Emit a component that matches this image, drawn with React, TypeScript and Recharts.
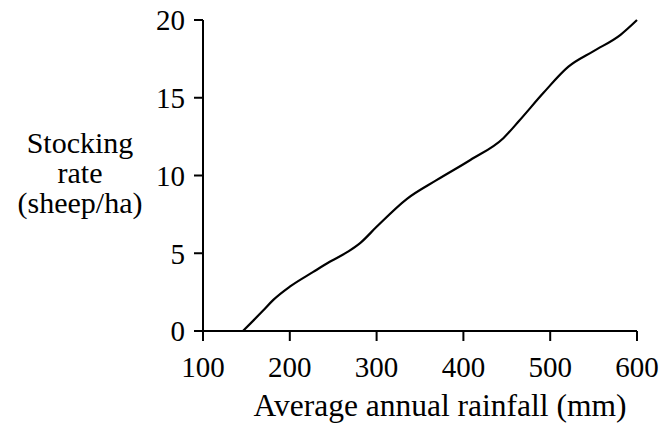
import { LineChart, Line, XAxis, YAxis, Label } from "recharts";

// rainfall (mm) vs stocking rate (sheep/ha)
const rainfall = [146, 169, 181, 200, 227, 246, 267, 281, 300, 335, 369, 408, 446, 464, 492, 521, 550, 581, 600];
const stocking = [0, 1.3, 2.0, 2.85, 3.8, 4.45, 5.1, 5.65, 6.7, 8.5, 9.7, 11.0, 12.4, 13.5, 15.3, 17.0, 18.0, 19.05, 20.0];

const xTicks = [100, 200, 300, 400, 500, 600];
const yTicks = [0, 5, 10, 15, 20];

const yLabelLines = ["Stocking", "rate", "(sheep/ha)"];
const xLabelText = "Average annual rainfall (mm)";

const data = rainfall.map((r, i) => ({ rain: r, rate: stocking[i] }));

const FONT = "Liberation Serif";

export default function App() {
  return (
    <div
      style={{
        position: "absolute",
        left: 0,
        top: 0,
        width: 664,
        height: 431,
        background: "#fff",
        fontFamily: FONT,
      }}
    >
      <LineChart
        width={664}
        height={431}
        data={data}
        margin={{ top: 20, right: 27, bottom: 40, left: 143 }}
        style={{ fontFamily: FONT }}
      >
        <XAxis
          dataKey="rain"
          type="number"
          domain={[100, 600]}
          ticks={xTicks}
          tickSize={10}
          tickMargin={15}
          height={60}
          axisLine={{ stroke: "#000", strokeWidth: 2 }}
          tickLine={{ stroke: "#000", strokeWidth: 2 }}
          tick={{ fill: "#000", fontSize: 29, style: { fontFamily: FONT } }}
        >
          <Label
            content={() => (
              <text x={440} y={416} textAnchor="middle" fill="#000" fontSize={31.5} style={{ fontFamily: FONT }}>
                {xLabelText}
              </text>
            )}
          />
        </XAxis>
        <YAxis
          type="number"
          domain={[0, 20]}
          ticks={yTicks}
          width={60}
          tickSize={9}
          tickMargin={9}
          axisLine={{ stroke: "#000", strokeWidth: 2 }}
          tickLine={{ stroke: "#000", strokeWidth: 2 }}
          tick={{ fill: "#000", fontSize: 29, style: { fontFamily: FONT } }}
        >
          <Label
            content={() => (
              <text textAnchor="middle" fill="#000" fontSize={30} style={{ fontFamily: FONT }}>
                {yLabelLines.map((t, i) => (
                  <tspan key={t} x={80} y={153 + i * 30}>
                    {t}
                  </tspan>
                ))}
              </text>
            )}
          />
        </YAxis>
        <Line
          type="monotone"
          dataKey="rate"
          stroke="#000"
          strokeWidth={2.2}
          dot={false}
          isAnimationActive={false}
        />
      </LineChart>
    </div>
  );
}
